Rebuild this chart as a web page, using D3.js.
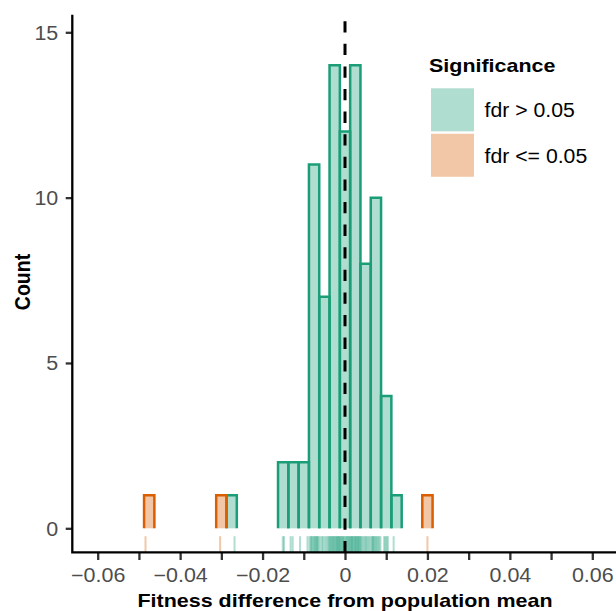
<!DOCTYPE html>
<html lang="en">
<head>
  <meta charset="UTF-8">
  <title>Fitness difference histogram</title>
  <style>
    html, body {
      margin: 0;
      padding: 0;
      overflow: hidden;
      width: 100%;
      height: 100%;
      background: #ffffff;
    }

    svg {
      position: absolute;
      top: 0;
      left: 0;
      font-family: "Liberation Sans", Arial, Helvetica, sans-serif;
    }
  </style>
</head>
<body>
  <svg width="616" height="611"></svg>
</body>
<script src="https://d3js.org/d3.v7.min.js"></script>
<script type="text/javascript">
  const notSignificant = [
    -0.0268,
    -0.0151, -0.0148,
    -0.0132, -0.0127,
    -0.0109, -0.0091,
    -0.0086, -0.0083, -0.0081, -0.0079, -0.0076, -0.0074, -0.0072, -0.0070, -0.0068, -0.0066, -0.0064,
    -0.0060, -0.0056, -0.0053, -0.0049, -0.0045, -0.0042, -0.0039,
    -0.0037, -0.0035, -0.0033, -0.0031, -0.0029, -0.0027, -0.0025, -0.0023, -0.0021, -0.0019, -0.0018, -0.0016, -0.0014, -0.0013,
    -0.0011, -0.0009, -0.0007, -0.0005, -0.0003, -0.0001, 0.0002, 0.0004, 0.0006, 0.0008, 0.0010, 0.0012,
    0.0014, 0.0016, 0.0017, 0.0019, 0.0021, 0.0023, 0.0025, 0.0026, 0.0028, 0.0030, 0.0032, 0.0033, 0.0035, 0.0037,
    0.0039, 0.0042, 0.0045, 0.0048, 0.0051, 0.0054, 0.0057, 0.0060,
    0.0064, 0.0066, 0.0068, 0.0070, 0.0072, 0.0075, 0.0077, 0.0080, 0.0083, 0.0086,
    0.0095, 0.0098, 0.0101, 0.0104,
    0.0118
  ]
  const significant = [-0.0484, -0.0303, 0.0200]

  const categories = ['fdr > 0.05', 'fdr <= 0.05']
  const colours = ['#1b9e77', '#d95f02']

  const xTicks = [-0.06, -0.05, -0.04, -0.03, -0.02, -0.01, 0, 0.01, 0.02, 0.03, 0.04, 0.05, 0.06]
  const xLabelled = [-0.06, -0.04, -0.02, 0, 0.02, 0.04, 0.06]
  const yTicks = [0, 5, 10, 15]

  const binWidth = 0.0025

  const svg = d3.select('svg')

  const panelLeft = 72.3, panelTop = 16, panelBottom = 552.3
  const x = d3.scaleLinear().domain([-0.06, 0.06]).range([97.7, 592.3])
  const y = d3.scaleLinear().domain([0, 15]).range([528.3, 32.3])

  const edges = d3.range(-27, 28).map(k => (k + 0.5) * binWidth)
  const bin = d3.bin().domain([-0.07, 0.07]).thresholds(edges)

  const groups = [notSignificant, significant].map((values, i) => ({
    name: categories[i],
    colour: colours[i],
    values,
    bins: bin(values).filter(b => b.length > 0)
  }))

  // histogram bars
  groups.forEach(g => {
    const bars = svg.append('g')
    bars.selectAll('rect')
      .data(g.bins)
      .enter()
      .append('rect')
      .attr('x', b => x(b.x0))
      .attr('width', b => x(b.x1) - x(b.x0))
      .attr('y', b => y(b.length))
      .attr('height', b => y(0) - y(b.length))
      .attr('fill', g.colour)
      .attr('fill-opacity', 0.35)
    bars.selectAll('path')
      .data(g.bins)
      .enter()
      .append('path')
      .attr('d', b => `M${x(b.x0)},${y(0)}V${y(b.length)}H${x(b.x1)}V${y(0)}`)
      .attr('fill', 'none')
      .attr('stroke', g.colour)
      .attr('stroke-width', 2.5)
  })

  // rug
  groups.forEach(g => {
    svg.append('g').selectAll('line')
      .data(g.values)
      .enter()
      .append('line')
      .attr('x1', d => x(d))
      .attr('x2', d => x(d))
      .attr('y1', panelBottom)
      .attr('y2', panelBottom - 16.1)
      .attr('stroke', g.colour)
      .attr('stroke-opacity', 0.35)
      .attr('stroke-width', 2)
  })

  // dashed line at zero
  svg.append('line')
    .attr('x1', x(0))
    .attr('x2', x(0))
    .attr('y1', panelBottom)
    .attr('y2', panelTop)
    .attr('stroke', '#000')
    .attr('stroke-width', 3)
    .attr('stroke-dasharray', '11.3,11.3')

  // axes
  const fmt = v => v === 0 ? '0' : d3.format('.2f')(v)
  const xAxis = svg.append('g')
    .attr('transform', `translate(0,${panelBottom})`)
    .call(d3.axisBottom(x)
      .tickValues(xTicks)
      .tickSize(7.7)
      .tickFormat(v => xLabelled.some(l => Math.abs(l - v) < 1e-9) ? fmt(v) : ''))
  xAxis.select('.domain').remove()
  xAxis.selectAll('line').attr('stroke', '#333').attr('stroke-width', 2.3)
  xAxis.selectAll('text')
    .attr('y', 29.7)
    .attr('dy', null)
    .attr('transform', 'scale(1.1,1)')
    .attr('fill', '#4d4d4d')
    .style('font-size', '19.5px')
    .style('font-family', '"Liberation Sans", Arial, sans-serif')

  const yAxis = svg.append('g')
    .attr('transform', `translate(${panelLeft},0)`)
    .call(d3.axisLeft(y).tickValues(yTicks).tickSize(6.6))
  yAxis.select('.domain').remove()
  yAxis.selectAll('line').attr('stroke', '#333').attr('stroke-width', 2.3)
  yAxis.selectAll('text')
    .attr('x', -14 / 1.1)
    .attr('dy', '0.36em')
    .attr('transform', 'scale(1.1,1)')
    .attr('fill', '#4d4d4d')
    .style('font-size', '19.5px')
    .style('font-family', '"Liberation Sans", Arial, sans-serif')

  svg.append('path')
    .attr('d', `M${panelLeft},${panelTop}V${panelBottom}H620`)
    .attr('fill', 'none')
    .attr('stroke', '#000')
    .attr('stroke-width', 2.3)
    .attr('stroke-linecap', 'square')

  // axis titles
  svg.append('text')
    .attr('transform', `translate(345,606.5) scale(1.13,1)`)
    .attr('text-anchor', 'middle')
    .style('font-size', '19px')
    .style('font-weight', 'bold')
    .text('Fitness difference from population mean')

  svg.append('text')
    .attr('transform', `translate(30,282) rotate(-90) scale(1,1.1)`)
    .attr('text-anchor', 'middle')
    .style('font-size', '19.5px')
    .style('font-weight', 'bold')
    .text('Count')

  // legend
  const legend = svg.append('g')
  legend.append('text')
    .attr('transform', 'translate(429,72.3) scale(1.13,1)')
    .style('font-size', '19px')
    .style('font-weight', 'bold')
    .text('Significance')

  const keys = legend.selectAll('g.key')
    .data(groups)
    .enter()
    .append('g')
    .attr('class', 'key')
    .attr('transform', (d, i) => `translate(431,${88.3 + i * 45.5})`)
  keys.append('rect')
    .attr('width', 43)
    .attr('height', 43)
    .attr('fill', d => d.colour)
    .attr('fill-opacity', 0.35)
  keys.append('text')
    .attr('transform', 'translate(53.5,29) scale(1.09,1)')
    .style('font-size', '19.5px')
    .text(d => d.name)
</script>
</html>
